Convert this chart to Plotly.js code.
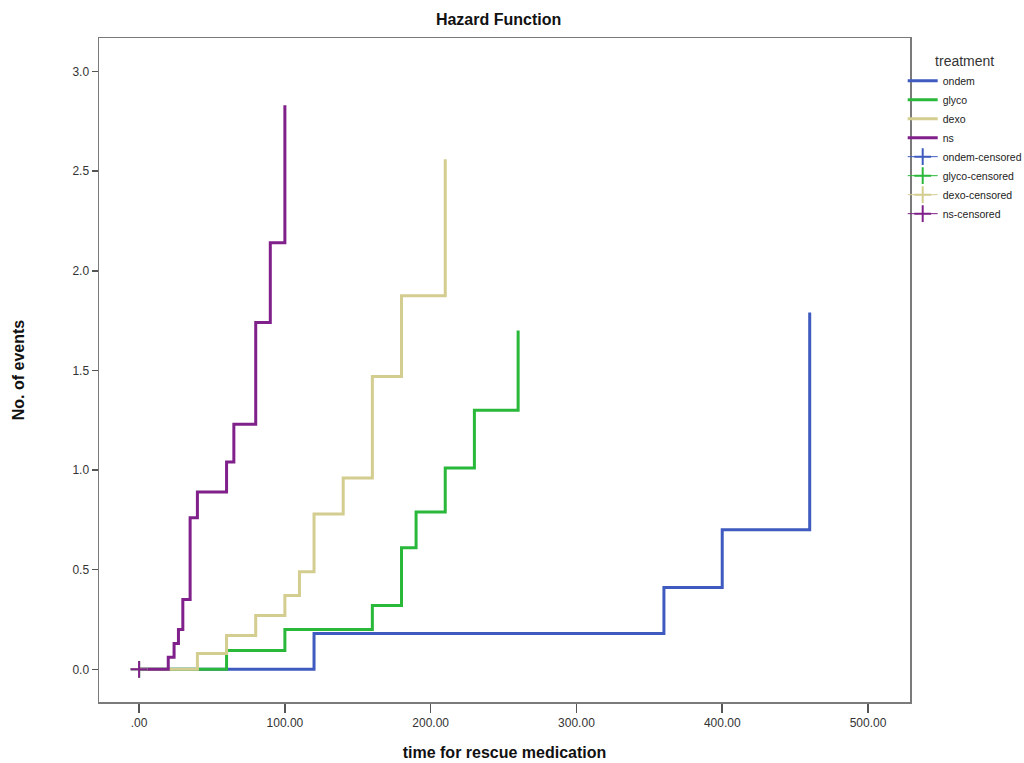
<!DOCTYPE html>
<html>
<head>
<meta charset="utf-8">
<script src="https://cdn.plot.ly/plotly-3.0.1.min.js"></script>
<style>html,body{margin:0;padding:0;background:#fff;}#chart{width:1024px;height:763px;}</style>
</head>
<body>
<div id="chart"></div>
<script>
// Cumulative hazard step data (time, value)
const ondemTime = [0, 120, 360, 400, 460];
const ondemHaz  = [0, 0.18, 0.41, 0.70, 1.79];

const glycoTime = [0, 60, 100, 160, 180, 190, 210, 230, 260];
const glycoHaz  = [0, 0.095, 0.20, 0.32, 0.61, 0.79, 1.01, 1.30, 1.70];

const dexoTime = [0, 40, 60, 80, 100, 110, 120, 140, 160, 180, 210];
const dexoHaz  = [0, 0.08, 0.17, 0.27, 0.37, 0.49, 0.78, 0.96, 1.47, 1.875, 2.56];

const nsTime = [0, 20, 24, 27, 30, 35, 40, 60, 65, 80, 90, 100];
const nsHaz  = [0, 0.06, 0.13, 0.20, 0.35, 0.76, 0.89, 1.04, 1.23, 1.74, 2.14, 2.83];

// Censored observations
const ondemCensTime = [0], ondemCensHaz = [0];
const glycoCensTime = [0], glycoCensHaz = [0];
const dexoCensTime = [0], dexoCensHaz = [0];
const nsCensTime = [0], nsCensHaz = [0];

const xTickVals = [0, 100, 200, 300, 400, 500];
const xTickText = ['.00', '100.00', '200.00', '300.00', '400.00', '500.00'];

const colors = {ondem: '#3F5BBF', glyco: '#29B83A', dexo: '#D3CD8F', ns: '#80208A'};

function stepTrace(name, x, y, c) {
  return {type: 'scatter', mode: 'lines', name: name, x: x, y: y,
          line: {shape: 'hv', color: c, width: 3}, hoverinfo: 'skip'};
}
function censTrace(name, x, y, c) {
  return {type: 'scatter', mode: 'lines+markers', name: name, x: x, y: y,
          line: {color: c, width: 1},
          marker: {symbol: 'cross-thin-open', size: 12, color: c, line: {color: c, width: 2}},
          hoverinfo: 'skip'};
}

const data = [
  stepTrace('ondem', ondemTime, ondemHaz, colors.ondem),
  stepTrace('glyco', glycoTime, glycoHaz, colors.glyco),
  stepTrace('dexo', dexoTime, dexoHaz, colors.dexo),
  stepTrace('ns', nsTime, nsHaz, colors.ns),
  censTrace('ondem-censored', ondemCensTime, ondemCensHaz, colors.ondem),
  censTrace('glyco-censored', glycoCensTime, glycoCensHaz, colors.glyco),
  censTrace('dexo-censored', dexoCensTime, dexoCensHaz, colors.dexo),
  censTrace('ns-censored', nsCensTime, nsCensHaz, colors.ns)
];

const layout = {
  width: 1024, height: 763,
  margin: {l: 99, r: 114, t: 38, b: 61, autoexpand: false},
  paper_bgcolor: '#ffffff', plot_bgcolor: '#ffffff',
  font: {family: 'Liberation Sans, Arial, sans-serif', size: 12, color: '#333'},
  title: {text: '<b>Hazard Function</b>', x: 0.4927, xref: 'paper', xanchor: 'center',
          y: 0.975, yref: 'container', yanchor: 'middle',
          font: {size: 16, color: '#111'}},
  xaxis: {
    range: [-27.5, 528.8], tickvals: xTickVals, ticktext: xTickText,
    showgrid: false, zeroline: false, showline: true, mirror: true,
    linecolor: '#7a7a7a', linewidth: 1.5,
    ticks: 'outside', ticklen: 9, tickwidth: 1.5, tickcolor: '#555',
    tickfont: {size: 12, color: '#333'},
    title: {text: '<b>time for rescue medication</b>', standoff: 18,
            font: {size: 16, color: '#111'}}
  },
  yaxis: {
    range: [-0.164, 3.168], tickvals: [0, 0.5, 1, 1.5, 2, 2.5, 3], tickformat: '.1f',
    showgrid: false, zeroline: false, showline: true, mirror: true,
    linecolor: '#7a7a7a', linewidth: 1.5,
    ticks: 'outside', ticklen: 6, tickwidth: 1.5, tickcolor: '#555',
    tickfont: {size: 12, color: '#333'},
    title: {text: '<b>No. of events</b>', standoff: 44,
            font: {size: 16, color: '#111'}}
  },
  showlegend: true,
  legend: {
    x: 0.991, xanchor: 'left', y: 0.985, yanchor: 'top',
    bgcolor: 'rgba(0,0,0,0)', borderwidth: 0,
    font: {size: 10.5, color: '#222'},
    title: {text: 'treatment', side: 'top center', font: {size: 14, color: '#333'}},
    tracegroupgap: 0, itemwidth: 30
  }
};

Plotly.newPlot('chart', data, layout, {displayModeBar: false, staticPlot: true});
</script>
</body>
</html>
